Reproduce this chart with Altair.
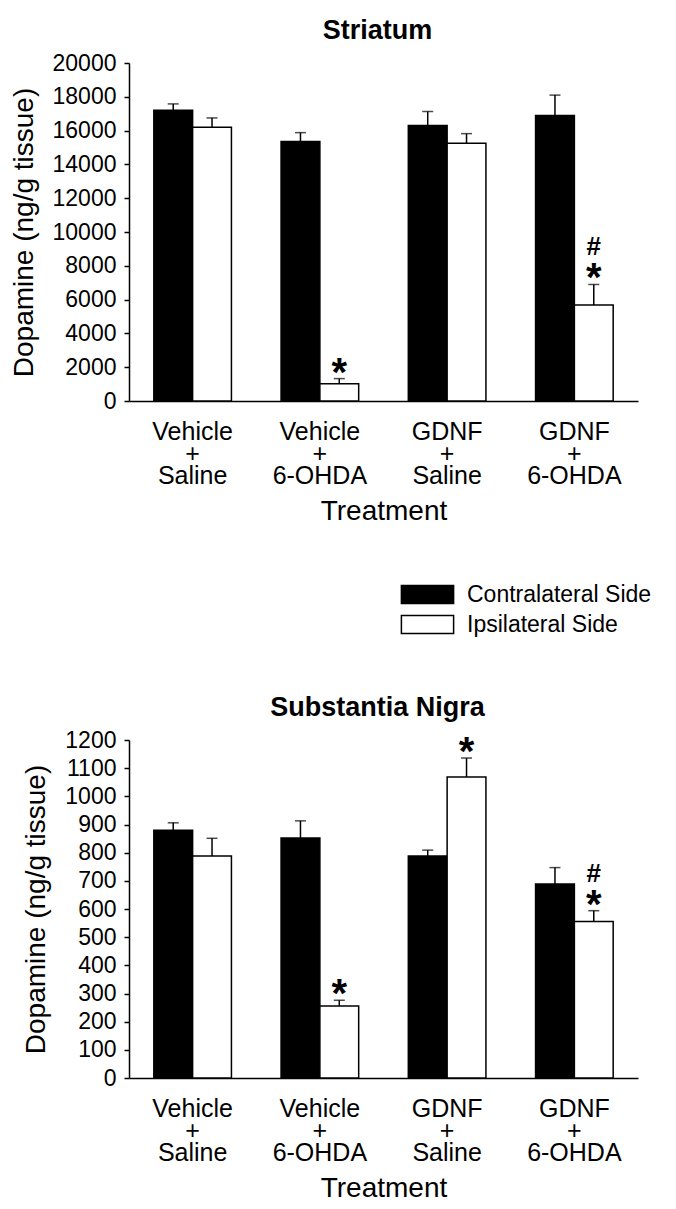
import altair as alt
import pandas as pd

treatments = ["Vehicle + Saline", "Vehicle + 6-OHDA", "GDNF + Saline", "GDNF + 6-OHDA"]
sides = ["Contralateral Side", "Ipsilateral Side"]

# Striatum
str_contra = [17200, 15350, 16300, 16900]
str_contra_err = [380, 530, 830, 1200]
str_ipsi = [16200, 1025, 15250, 5675]
str_ipsi_err = [550, 300, 570, 1220]
str_star = ["", "*", "", "*"]
str_hash = ["", "", "", "#"]

# Substantia Nigra
sn_contra = [880, 852, 788, 689]
sn_contra_err = [26, 61, 21, 58]
sn_ipsi = [788, 256, 1069, 556]
sn_ipsi_err = [63, 20, 67, 38]
sn_star = ["", "*", "*", "*"]
sn_hash = ["", "", "", "#"]

FONT = "Liberation Sans"


def make_df(contra, contra_err, ipsi, ipsi_err, star, hsh):
    rows = []
    for i, t in enumerate(treatments):
        rows.append(dict(Treatment=t, Side=sides[0], Value=contra[i],
                         Upper=contra[i] + contra_err[i], Star="", Hash=""))
        rows.append(dict(Treatment=t, Side=sides[1], Value=ipsi[i],
                         Upper=ipsi[i] + ipsi_err[i], Star=star[i], Hash=hsh[i]))
    return pd.DataFrame(rows)


def panel(df, title, ymax, step, show_legend):
    x = alt.X("Treatment:N", sort=treatments,
              scale=alt.Scale(paddingInner=0.39, paddingOuter=0.195),
              axis=alt.Axis(title="Treatment", labelAngle=0, ticks=False,
                            labelExpr="split(datum.label, ' ')",
                            labelFontSize=25, labelLineHeight=22,
                            labelPadding=18, titleFontSize=28,
                            titlePadding=9, titleFontWeight="normal",
                            labelOverlap=False,
                            domainColor="black", domainWidth=1.5,
                            labelColor="black", titleColor="black",
                            labelFont=FONT, titleFont=FONT))
    xo = alt.XOffset("Side:N", sort=sides,
                     scale=alt.Scale(paddingInner=0, paddingOuter=0))
    yscale = alt.Scale(domain=[0, ymax], nice=False)
    yaxis = alt.Axis(title="Dopamine (ng/g tissue)",
                     values=list(range(0, ymax + 1, step)),
                     format="d", labelOverlap=False,
                     grid=False, tickSize=5, tickColor="black",
                     tickWidth=1.5, domainColor="black",
                     domainWidth=1.5, labelFontSize=23,
                     labelPadding=8, titleFontSize=28,
                     titlePadding=14, titleFontWeight="normal",
                     labelColor="black", titleColor="black",
                     labelFont=FONT, titleFont=FONT)
    y = alt.Y("Value:Q", scale=yscale, axis=yaxis,
              title="Dopamine (ng/g tissue)")
    yu = alt.Y("Upper:Q", scale=yscale, axis=yaxis,
               title="Dopamine (ng/g tissue)")
    fill_scale = alt.Scale(domain=sides, range=["black", "white"])
    if show_legend:
        legend = alt.Legend(title=None, orient="none", legendX=287,
                            legendY=520, labelFontSize=23, labelFont=FONT,
                            labelColor="black", labelLimit=0,
                            symbolType="M-2.9,-1H2.9V1H-2.9Z",
                            symbolSize=324, symbolStrokeColor="black",
                            symbolStrokeWidth=1.5, labelOffset=28,
                            rowPadding=5, padding=0)
        fill = alt.Fill("Side:N", legend=legend, scale=fill_scale)
    else:
        fill = alt.Fill("Side:N", legend=None, scale=fill_scale)

    base = alt.Chart(df)
    bars = base.mark_bar(stroke="black", strokeWidth=1.5).encode(
        x=x, xOffset=xo, y=y, fill=fill)
    rules = base.mark_rule(color="black", strokeWidth=1.5).encode(
        x=x, xOffset=xo, y=y, y2="Upper:Q")
    caps = base.mark_tick(color="black", thickness=1.5, size=11).encode(
        x=x, xOffset=xo, y=yu)
    stars = base.transform_filter("datum.Star != ''").mark_text(
        fontSize=40, fontWeight="bold", font=FONT, color="black",
        baseline="alphabetic", dy=7).encode(
        x=x, xOffset=xo, y=yu, text="Star:N")
    hashes = base.transform_filter("datum.Hash != ''").mark_text(
        fontSize=26, fontWeight="bold", font=FONT, color="black",
        baseline="alphabetic", dy=-29).encode(
        x=x, xOffset=xo, y=yu, text="Hash:N")
    return alt.layer(bars, rules, caps, stars, hashes).properties(
        width=509, height=338,
        title=alt.TitleParams(title, fontSize=27, fontWeight="bold",
                              font=FONT, color="black", offset=7, dx=-6))


top = panel(make_df(str_contra, str_contra_err, str_ipsi, str_ipsi_err,
                    str_star, str_hash), "Striatum", 20000, 2000, True)
bottom = panel(make_df(sn_contra, sn_contra_err, sn_ipsi, sn_ipsi_err,
                       sn_star, sn_hash), "Substantia Nigra", 1200, 100, False)

chart = alt.vconcat(top, bottom, spacing=169).properties(
    padding={"left": 2, "top": 9, "right": 0, "bottom": 0},
    background="white"
).configure_view(stroke="transparent", strokeWidth=0)

chart.save("out.html", embed_options={"renderer": "svg", "actions": False})
